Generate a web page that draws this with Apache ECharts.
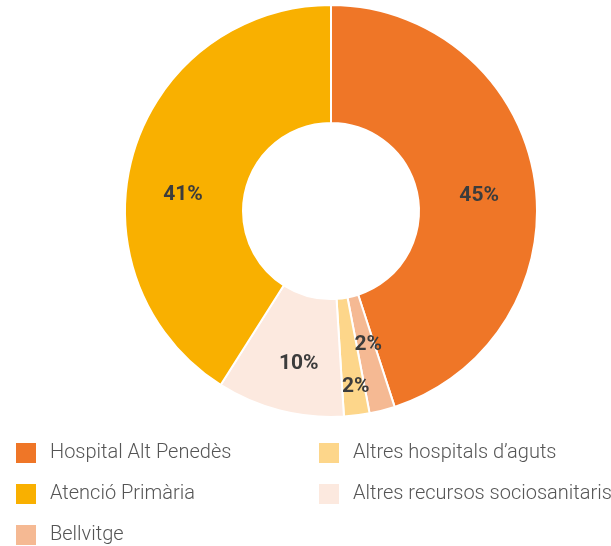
<!DOCTYPE html>
<html>
<head>
<meta charset="utf-8">
<script src="https://cdn.jsdelivr.net/npm/echarts@6/dist/echarts.min.js"></script>
<style>
    html, body { margin: 0; padding: 0; background: #fff; }
    #chart { width: 611px; height: 546px; }
</style>
</head>
<body>
<div id="chart"></div>
<script>
    // dades (sentit horari des de dalt)
    const categories = ['Hospital Alt Penedès', 'Bellvitge', 'Altres hospitals d\u2019aguts', 'Altres recursos sociosanitaris', 'Atenció Primària'];
    const values = [45, 2, 2, 10, 41];
    const colors = ['#EF7627', '#F5B993', '#FDD68A', '#FCE9DF', '#F9B000'];

    const legendLeft = ['Hospital Alt Penedès', 'Atenció Primària', 'Bellvitge'];
    const legendRight = ['Altres hospitals d\u2019aguts', 'Altres recursos sociosanitaris'];

    // petits desplaçaments de les etiquetes
    const labelNudge = [[0, 8], [0, -12], [6, 27], [5, 7], [-4, 26]];

    const legendBase = {
        orient: 'vertical',
        top: 441,
        height: 120,
        padding: 0,
        icon: 'rect',
        itemWidth: 22,
        itemHeight: 22,
        itemGap: 17,
        selectedMode: false,
        textStyle: {
            fontFamily: 'Roboto',
            fontWeight: 300,
            fontSize: 20,
            color: '#555',
            padding: [0, 0, 0, 8]
        }
    };

    const option = {
        animation: false,
        color: colors,
        legend: [
            {...legendBase, left: 14, data: legendLeft},
            {...legendBase, left: 317, data: legendRight}
        ],
        series: [{
            type: 'pie',
            center: [331, 211],
            radius: [88, 206],
            startAngle: 90,
            clockwise: true,
            itemStyle: {
                borderColor: '#fff',
                borderWidth: 2
            },
            label: {
                show: true,
                position: 'inside',
                formatter: '{c}%',
                fontFamily: 'Roboto',
                fontWeight: 'bold',
                fontSize: 21,
                color: '#3c3c3c'
            },
            labelLine: { show: false },
            labelLayout(params) {
                const n = labelNudge[params.dataIndex];
                return { dx: n[0], dy: n[1] };
            },
            emphasis: { disabled: true },
            data: categories.map((name, i) => ({ name, value: values[i] }))
        }]
    };

    const chart = echarts.init(document.getElementById('chart'));
    chart.setOption(option);
</script>
</body>
</html>
